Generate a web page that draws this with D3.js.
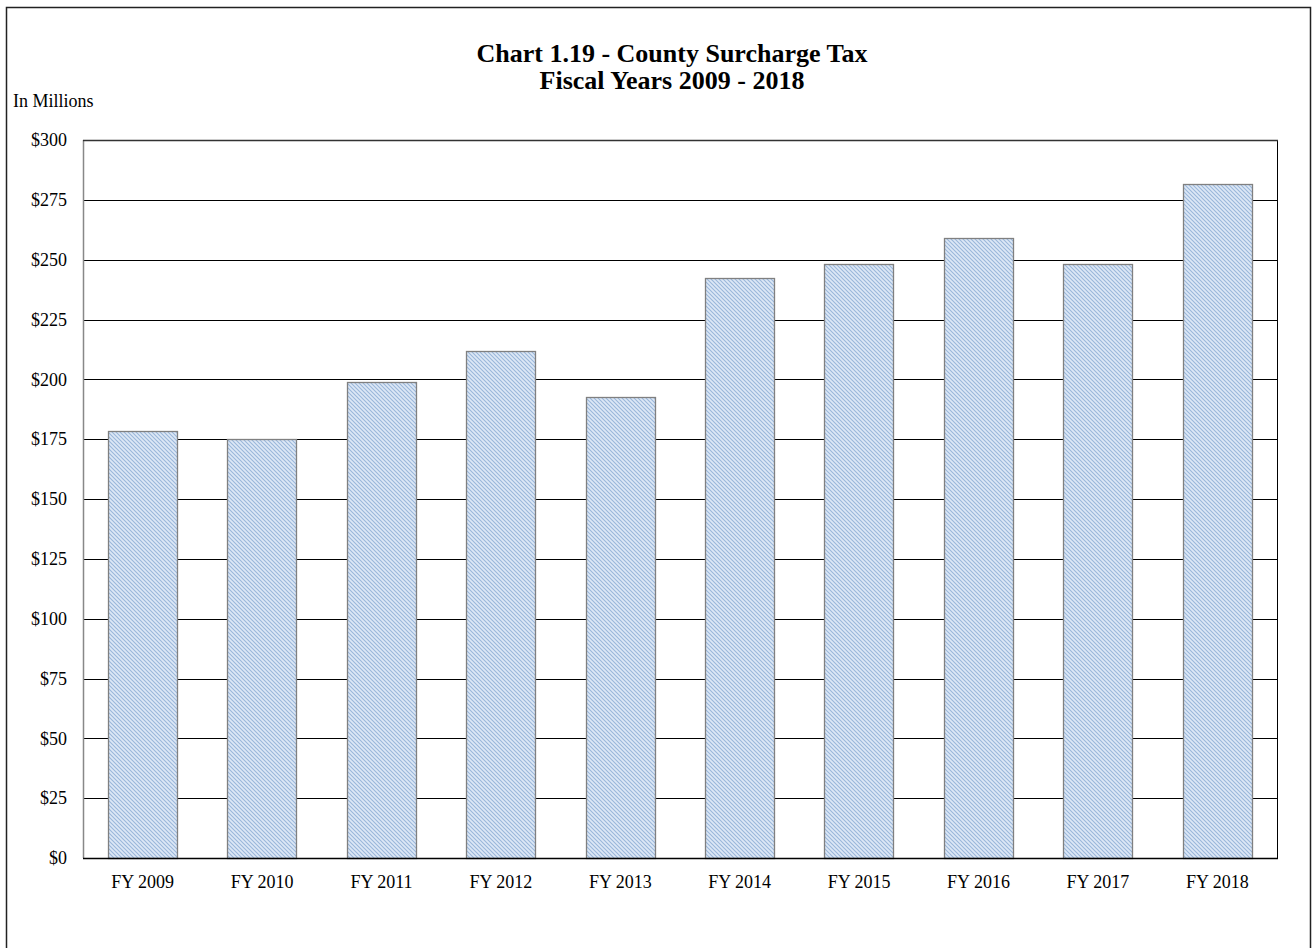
<!DOCTYPE html>
<html><head><meta charset="utf-8">
<script src="https://cdn.jsdelivr.net/npm/d3@7"></script>
<style>body{margin:0;background:#fff}svg{display:block}</style>
</head><body>
<script>
const categories = ["FY 2009","FY 2010","FY 2011","FY 2012","FY 2013","FY 2014","FY 2015","FY 2016","FY 2017","FY 2018"];
const values = [178.4, 175.1, 198.9, 211.9, 192.6, 242.4, 248.2, 259.1, 248.2, 281.6];
const yTicks = [0,25,50,75,100,125,150,175,200,225,250,275,300];
const titleLines = ["Chart 1.19 - County Surcharge Tax","Fiscal Years 2009 - 2018"];
const unitLabel = "In Millions";

const W = 1314, H = 948;
const m = {left:83, right:1277, top:140, bottom:858};
const svg = d3.select("body").append("svg").attr("width",W).attr("height",H);
const font = "'Liberation Serif','Times New Roman',serif";

const defs = svg.append("defs");
const pat = defs.append("pattern").attr("id","hatch").attr("patternUnits","userSpaceOnUse")
  .attr("width",4).attr("height",4);
pat.append("rect").attr("width",4).attr("height",4).attr("fill","#dde8f6");
pat.append("path").attr("d","M-1,-1 L5,5 M3,-1 L5,1 M-1,3 L1,5").attr("stroke","#9ab7da").attr("stroke-width",1.1);

// outer frame
svg.append("rect").attr("x",6.5).attr("y",7.5).attr("width",1304).attr("height",1000)
  .attr("fill","none").attr("stroke","#222").attr("stroke-width",1.5);

const x = d3.scaleBand().domain(categories).range([m.left,m.right]).paddingInner(0.42).paddingOuter(0.21);
const y = d3.scaleLinear().domain([0,300]).range([m.bottom,m.top]);

// gridlines
svg.append("g").selectAll("line").data(yTicks.filter(d=>d>0)).join("line")
  .attr("x1",m.left).attr("x2",m.right).attr("y1",d=>Math.round(y(d))+0.5).attr("y2",d=>Math.round(y(d))+0.5)
  .attr("stroke","#000").attr("stroke-width",1);

// plot border
svg.append("line").attr("x1",m.left+0.5).attr("x2",m.left+0.5).attr("y1",m.top).attr("y2",m.bottom).attr("stroke","#888").attr("stroke-width",1.5);
svg.append("line").attr("x1",m.right+0.5).attr("x2",m.right+0.5).attr("y1",m.top).attr("y2",m.bottom).attr("stroke","#000").attr("stroke-width",1);
svg.append("line").attr("x1",m.left).attr("x2",m.right+1).attr("y1",m.top+0.5).attr("y2",m.top+0.5).attr("stroke","#333").attr("stroke-width",1.5);

// bars
svg.append("g").selectAll("rect").data(values).join("rect")
  .attr("x",(d,i)=>Math.round(x(categories[i]))+0.5)
  .attr("width",Math.round(x.bandwidth()))
  .attr("y",d=>Math.round(y(d))+0.5)
  .attr("height",d=>Math.round(y(0))-Math.round(y(d)))
  .attr("fill","url(#hatch)").attr("stroke","#808080").attr("stroke-width",1.3);

// baseline
svg.append("line").attr("x1",m.left).attr("x2",m.right+1).attr("y1",m.bottom+0.5).attr("y2",m.bottom+0.5).attr("stroke","#000").attr("stroke-width",1.3);

// y axis labels
const yAxis = d3.axisLeft(y).tickValues(yTicks).tickSize(0).tickPadding(16).tickFormat(d=>"$"+d);
const ya = svg.append("g").attr("transform",`translate(${m.left},0)`).call(yAxis);
ya.select(".domain").remove();
ya.selectAll("text").attr("font-family",font).attr("font-size",18).attr("fill","#000");

// x axis labels
const xAxis = d3.axisBottom(x).tickSize(0).tickPadding(17);
const xa = svg.append("g").attr("transform",`translate(0,${m.bottom})`).call(xAxis);
xa.select(".domain").remove();
xa.selectAll("text").attr("font-family",font).attr("font-size",18).attr("fill","#000");

// title
svg.append("g").selectAll("text").data(titleLines).join("text")
  .attr("x",672).attr("y",(d,i)=>62+i*27).attr("text-anchor","middle")
  .attr("font-family",font).attr("font-size",26).attr("font-weight","bold").text(d=>d);

svg.append("text").attr("x",13).attr("y",107).attr("font-family",font).attr("font-size",18).text(unitLabel);
</script>
</body></html>
